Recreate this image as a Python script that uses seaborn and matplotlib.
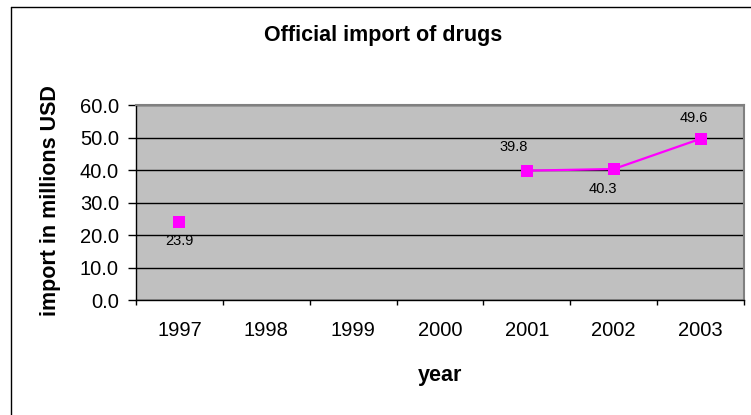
import numpy as np
import pandas as pd
import matplotlib
matplotlib.use("Agg")
import matplotlib.pyplot as plt
from matplotlib.lines import Line2D
import seaborn as sns

# --- data -------------------------------------------------------------
years = ["1997", "1998", "1999", "2000", "2001", "2002", "2003"]
imports_musd = [23.9, np.nan, np.nan, np.nan, 39.8, 40.3, 49.6]
y_ticks = [0, 10, 20, 30, 40, 50, 60]

title_text = "Official import of drugs"
x_label = "year"
y_label = "import in millions USD"

# --- style ------------------------------------------------------------
sns.set_style("white")
plt.rcParams["font.family"] = ["Liberation Sans", "DejaVu Sans"]
plt.rcParams.update({
    "text.color": "black",
    "axes.labelcolor": "black",
    "xtick.color": "black",
    "ytick.color": "black",
})

MAGENTA = "#FF00FF"
PLOT_BG = "#C0C0C0"

W, H, DPI = 751, 415, 100
fig = plt.figure(figsize=(W / DPI, H / DPI), dpi=DPI)
fig.patch.set_facecolor("white")

# plot area in pixel terms -> figure fractions
left, right, top, bottom = 136, 744, 105, 300
ax = fig.add_axes([left / W, 1 - bottom / H, (right - left) / W, (bottom - top) / H])
ax.set_facecolor(PLOT_BG)

df = pd.DataFrame({"year": years, "pos": np.arange(len(years)), "value": imports_musd})

# draw each contiguous run of reported values as its own line (gaps stay open)
run_id = df["value"].isna().cumsum()
for _, run in df[df["value"].notna()].groupby(run_id[df["value"].notna()]):
    sns.lineplot(data=run, x="pos", y="value", ax=ax, color=MAGENTA,
                 linewidth=1.6, marker="s", markersize=8,
                 markeredgecolor=MAGENTA, markeredgewidth=0, zorder=4)

# value labels placed around markers (pixel offsets)
label_offsets = {"1997": (0, -19), "2001": (-13, 24), "2002": (-11, -20), "2003": (-7, 21)}
for _, row in df.dropna().iterrows():
    dx, dy = label_offsets.get(row["year"], (0, 15))
    ax.annotate(f"{row['value']:.1f}", (row["pos"], row["value"]),
                xytext=(dx, dy), textcoords="offset pixels",
                ha="center", va="center", fontsize=10.5, color="black", zorder=5)

# axes limits / ticks (category boundaries carry the tick marks)
ax.set_xlim(-0.5, len(years) - 0.5)
ax.set_ylim(y_ticks[0], y_ticks[-1])
ax.set_xticks(np.arange(-0.5, len(years), 1.0))
ax.set_xticklabels([])
ax.set_xticks(df["pos"], minor=True)
ax.set_xticklabels(years, minor=True)
ax.set_yticks(y_ticks)
ax.set_yticklabels([f"{v:.1f}" for v in y_ticks])

ax.tick_params(axis="x", which="major", direction="out", length=3.6, width=1, color="black")
ax.tick_params(axis="x", which="minor", length=0, pad=15, labelsize=14.5, labelcolor="black")
ax.tick_params(axis="y", direction="out", length=5.8, width=1, color="black",
               pad=6.5, labelsize=14.5, labelcolor="black")
ax.xaxis.set_ticks_position("bottom")
ax.yaxis.set_ticks_position("left")

ax.set_axisbelow(True)
ax.grid(axis="y", color="black", linewidth=1.0)
ax.grid(axis="x", visible=False)

for side in ("left", "bottom"):
    ax.spines[side].set_color("black")
    ax.spines[side].set_linewidth(1.0)
for side in ("top", "right"):
    ax.spines[side].set_color("#808080")
    ax.spines[side].set_linewidth(1.5)
for sp in ax.spines.values():
    sp.set_visible(True)
    sp.set_zorder(3)

# titles
fig.text(383 / W, 1 - 35 / H, title_text, fontsize=15.5, fontweight="bold",
         ha="center", va="center", color="black")
ax.set_xlabel(x_label, fontsize=15.5, fontweight="bold", color="black")
ax.xaxis.label.set_va("center")
ax.xaxis.set_label_coords((440 - left) / (right - left), (bottom - 375) / (bottom - top))
ax.set_ylabel(y_label, fontsize=15.5, fontweight="bold", color="black")
ax.yaxis.label.set_va("center")
ax.yaxis.set_label_coords((51 - left) / (right - left), (bottom - 201) / (bottom - top))

# chart frame (left and top edges)
fig.add_artist(Line2D([10.5 / W, 10.5 / W], [0, 1 - 7.5 / H], color="black", linewidth=1.0))
fig.add_artist(Line2D([10.5 / W, 1], [1 - 7.5 / H, 1 - 7.5 / H], color="black", linewidth=1.0))

fig.savefig("out.png", dpi=DPI)
